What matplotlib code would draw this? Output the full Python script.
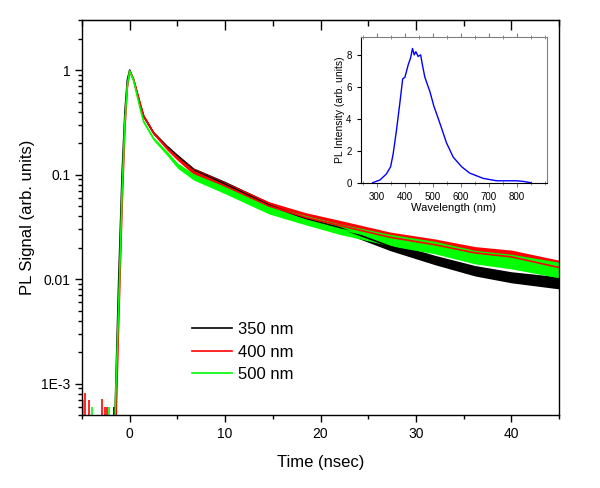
import matplotlib
matplotlib.use("Agg")
import matplotlib.pyplot as plt
import numpy as np
from matplotlib.lines import Line2D
from matplotlib.ticker import FixedLocator, NullFormatter, MultipleLocator

plt.rcParams['font.family'] = ['Liberation Sans', 'DejaVu Sans']

# time grid (ns) shared by the three decay traces
t_knots = [-1.6, -1.45, -1.15, -0.8, -0.5, -0.25, 0.0, 0.42, 0.77, 1.12, 1.46, 2.5,
           3.9, 5.0, 6.7, 9.85, 14.6, 18.4, 22.0, 27.3, 32.0, 36.2, 40.0, 45.0]

# 350 nm (black): trace centre and half width of the noise band (decades)
v_350 = [3e-4, 1e-3, 0.01, 0.1, 0.4, 0.8, 1.0, 0.80, 0.60, 0.46, 0.36, 0.25,
         0.185, 0.15, 0.11, 0.082, 0.051, 0.038, 0.031, 0.0205, 0.0152, 0.012, 0.0104, 0.0092]
w_350 = [0, 0, 0, 0, 0, 0, 0, 0.004, 0.006, 0.008, 0.01, 0.012,
         0.015, 0.018, 0.022, 0.027, 0.03, 0.033, 0.035, 0.04, 0.045, 0.05, 0.053, 0.058]

# 400 nm (red)
v_400 = [1e-4, 4e-4, 0.004, 0.05, 0.28, 0.68, 0.97, 0.81, 0.62, 0.47, 0.365, 0.25,
         0.18, 0.145, 0.107, 0.079, 0.050, 0.039, 0.0325, 0.0251, 0.0213, 0.0178, 0.0163, 0.0129]
w_400 = [0, 0, 0, 0, 0, 0, 0, 0.004, 0.006, 0.008, 0.012, 0.015,
         0.02, 0.025, 0.03, 0.035, 0.04, 0.045, 0.05, 0.05, 0.055, 0.06, 0.065, 0.07]

# 500 nm (green)
v_500 = [3e-4, 9e-4, 0.006, 0.07, 0.33, 0.72, 0.98, 0.79, 0.57, 0.42, 0.32, 0.22,
         0.16, 0.122, 0.095, 0.072, 0.046, 0.0367, 0.030, 0.0236, 0.020, 0.0162, 0.0147, 0.0122]
w_500 = [0, 0, 0, 0, 0, 0, 0, 0.004, 0.006, 0.008, 0.012, 0.015,
         0.02, 0.025, 0.03, 0.035, 0.04, 0.045, 0.05, 0.055, 0.06, 0.065, 0.07, 0.075]

# noise spikes before the excitation pulse
spike_t_350 = [-1.67]
spike_v_350 = [6e-4]
spike_t_400 = [-4.73, -4.27, -2.9, -2.54, -2.36]
spike_v_400 = [8.1e-4, 7.0e-4, 7.1e-4, 6.0e-4, 6.0e-4]
spike_t_500 = [-4.87, -3.93, -2.19]
spike_v_500 = [7e-4, 6e-4, 6e-4]

# inset: PL spectrum
wl = [286, 312, 335, 350, 359, 371, 383, 393, 401, 413, 421, 428, 434, 440, 448,
      457, 463, 472, 490, 504, 526, 549, 573, 603, 632, 680, 728, 799, 823, 850]
pl = [0, 0.17, 0.55, 1.0, 1.8, 3.3, 5.0, 6.5, 6.6, 7.4, 7.8, 8.4, 8.0, 8.2, 7.9,
      8.0, 7.4, 6.6, 5.7, 4.8, 3.7, 2.5, 1.6, 1.0, 0.6, 0.27, 0.12, 0.12, 0.08, 0]

labels = ['350 nm', '400 nm', '500 nm']
colors = ['black', '#ff0000', '#00ff00']

fig = plt.figure(figsize=(6, 4.88), dpi=100, facecolor='white')
ax = fig.add_axes([0.1367, 0.1496, 0.795, 0.809])
ax.set_yscale('log')

t = np.array(t_knots)
series = [(v_350, w_350, spike_t_350, spike_v_350),
          (v_400, w_400, spike_t_400, spike_v_400),
          (v_500, w_500, spike_t_500, spike_v_500)]
for (v, w, st, sv), c in zip(series, colors):
    v = np.array(v)
    w = np.array(w)
    ax.fill_between(t, v * 10 ** (-w), v * 10 ** w, color=c, lw=0)
    ax.plot(t, v, color=c, lw=1.2)
    ax.vlines(st, 1e-5, sv, color=c, lw=1.2)

ax.set_xlim(-5, 45)
ax.set_ylim(5e-4, 3)
ax.set_yticks([1e-3, 0.01, 0.1, 1])
ax.set_yticklabels(['1E-3', '0.01', '0.1', '1'])
ax.yaxis.set_minor_locator(FixedLocator([k * 10.0 ** e for e in range(-4, 1) for k in range(2, 10)]))
ax.yaxis.set_minor_formatter(NullFormatter())
ax.xaxis.set_major_locator(MultipleLocator(10))
ax.xaxis.set_minor_locator(MultipleLocator(5))
ax.tick_params(axis='both', which='major', direction='out', length=5, width=1, labelsize=10)
ax.tick_params(axis='both', which='minor', direction='out', length=3, width=1)
for s in ax.spines.values():
    s.set_linewidth(1.0)
ax.set_xlabel('Time (nsec)', fontsize=12, labelpad=10)
ax.set_ylabel('PL Signal (arb. units)', fontsize=12)

# top axis: ticks pointing inward, no labels
top = ax.secondary_xaxis('top')
top.xaxis.set_major_locator(MultipleLocator(10))
top.xaxis.set_minor_locator(MultipleLocator(5))
top.tick_params(which='major', direction='in', length=7, width=1, labeltop=False)
top.tick_params(which='minor', direction='in', length=4, width=1)

handles = [Line2D([], [], color=c, lw=1.2) for c in colors]
ax.legend(handles, labels, loc='upper left', bbox_to_anchor=(0.2306, 0.2354), frameon=False,
          fontsize=12, handlelength=2.4, handletextpad=0.35, labelspacing=0.45,
          borderpad=0, borderaxespad=0)

# inset
ins = fig.add_axes([0.601, 0.6256, 0.3105, 0.298])
ins.plot(wl, pl, color='#0000ff', lw=1)
ins.set_xlim(243, 907)
ins.set_ylim(0, 9.1)
ins.set_xticks([300, 400, 500, 600, 700, 800])
ins.set_yticks([0, 2, 4, 6, 8])
ins.xaxis.set_minor_locator(MultipleLocator(50))
ins.tick_params(axis='both', which='major', direction='out', length=3, width=0.8, labelsize=7)
ins.tick_params(axis='x', which='minor', direction='inout', length=2.5, width=0.6)
ins.tick_params(axis='x', which='both', top=True, color='#808080')
ins.spines['top'].set_color('#808080')
ins.spines['right'].set_color('#808080')
for s in ins.spines.values():
    s.set_linewidth(0.8)
ins.set_xlabel('Wavelength (nm)', fontsize=8, labelpad=1)
ins.set_ylabel('PL Intensity (arb. units)', fontsize=7.5, labelpad=1)

fig.savefig('out.png', dpi=100)
